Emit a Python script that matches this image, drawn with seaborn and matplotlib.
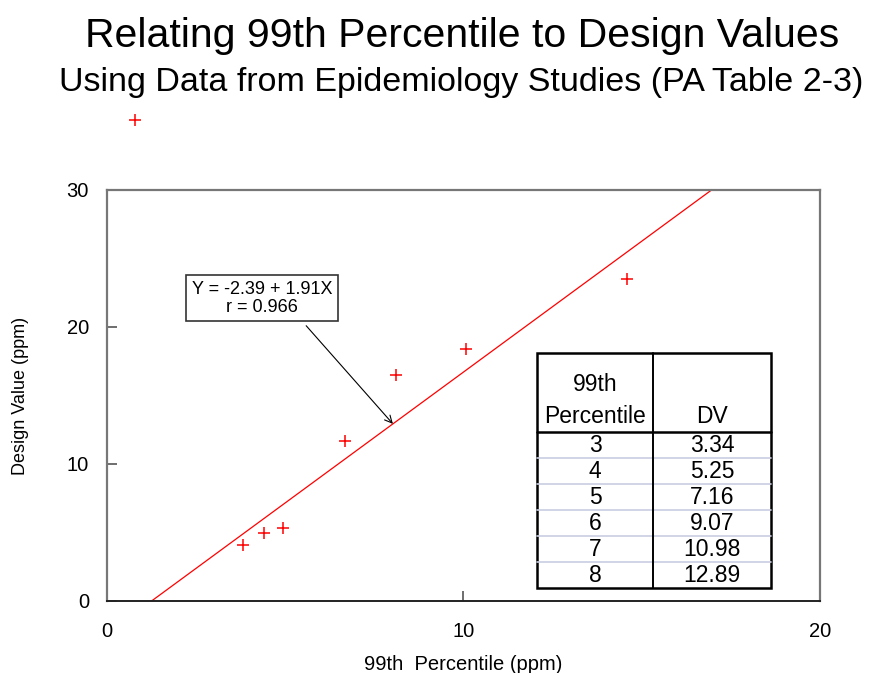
"""
Scatter of 99th percentile vs design value with fitted line and lookup table.
"""

import numpy as np
import pandas as pd
import matplotlib
matplotlib.use("Agg")
import matplotlib.pyplot as plt
import seaborn as sns

# Study data
pct99 = [3.81, 4.40, 4.94, 6.68, 8.11, 10.07, 14.59, 0.79]
design_value = [4.09, 4.96, 5.33, 11.68, 16.50, 18.40, 23.50, 35.10]

# Fitted line Y = a + bX
intercept = -2.39
slope = 1.91
r_value = 0.966

# Lookup table
table_pct = [3, 4, 5, 6, 7, 8]
table_dv = [3.34, 5.25, 7.16, 9.07, 10.98, 12.89]

# arrow target on the fitted line
arrow_x = 8.02

sns.set_style("white")
plt.rcParams['font.family'] = ['Liberation Sans', 'DejaVu Sans']
plt.rcParams['text.color'] = 'black'
plt.rcParams['axes.labelcolor'] = 'black'

df = pd.DataFrame({"x": pct99, "y": design_value})
fit_x = np.array([0, 20])
fit_df = pd.DataFrame({"x": fit_x, "y": intercept + slope * fit_x})

fig = plt.figure(figsize=(8.74, 6.73), dpi=100)
ax = fig.add_axes([0.1224, 0.1070, 0.8158, 0.6107])

sns.lineplot(data=fit_df, x="x", y="y", ax=ax, color="red", lw=0.9)
sns.scatterplot(data=df, x="x", y="y", ax=ax, marker="+", s=80,
                color="red", linewidth=1.1, clip_on=False, zorder=5)

ax.set_xlim(0, 20)
ax.set_ylim(0, 30)
ax.set_xticks([0, 10, 20])
ax.set_yticks([0, 10, 20, 30])
ax.tick_params(direction="in", length=7, width=1.2, colors="#555555",
               labelcolor="black", labelsize=14.5, bottom=True, left=True)
ax.tick_params(axis="x", pad=15)
ax.tick_params(axis="y", pad=13)
ax.set_xlabel("99th  Percentile (ppm)", fontsize=14.5, labelpad=10)
ax.set_ylabel("Design Value (ppm)", fontsize=13, labelpad=27)

for side in ["left", "top", "right"]:
    ax.spines[side].set_color("#777777")
    ax.spines[side].set_linewidth(1.6)
ax.spines["bottom"].set_color("#222222")
ax.spines["bottom"].set_linewidth(1.4)

# equation box with arrow
ax.annotate(f"Y = {intercept} + {slope}X\nr = {r_value}",
            xy=(arrow_x, intercept + slope * arrow_x), xytext=(4.35, 22.1),
            ha="center", va="center", fontsize=13, linespacing=1.05,
            bbox=dict(boxstyle="square,pad=0.3", fc="white", ec="#333333", lw=1.2),
            arrowprops=dict(arrowstyle="->", color="black", lw=0.8,
                            shrinkA=4, shrinkB=0, relpos=(0.75, 0)))

# lookup table drawn in axes fraction
t_left, t_mid, t_right = 0.603, 0.766, 0.931
t_top, t_head, t_bot = 0.603, 0.411, 0.0316
row_h = (t_head - t_bot) / len(table_pct)
c1 = (t_left + t_mid) / 2
c2 = (t_mid + t_right) / 2
tr = ax.transAxes
fs_tab = 16.5

ax.add_patch(plt.Rectangle((t_left, t_bot), t_right - t_left, t_top - t_bot,
                           transform=tr, fc="white", ec="black", lw=1.8, zorder=6))
for i in range(1, len(table_pct)):
    yy = t_head - i * row_h
    ax.plot([t_left, t_right], [yy, yy], transform=tr, color="#c9cde0",
            lw=1.2, zorder=7)
ax.plot([t_left, t_right], [t_head, t_head], transform=tr, color="black", lw=1.8, zorder=8)
ax.plot([t_mid, t_mid], [t_bot, t_top], transform=tr, color="black", lw=1.4, zorder=8)

ax.text(c1, 0.526, "99th", transform=tr, ha="center", va="center", fontsize=fs_tab, zorder=9)
ax.text(c1, 0.448, "Percentile", transform=tr, ha="center", va="center", fontsize=fs_tab, zorder=9)
ax.text(c2, 0.448, "DV", transform=tr, ha="center", va="center", fontsize=fs_tab, zorder=9)
for i, (p, d) in enumerate(zip(table_pct, table_dv)):
    yy = t_head - (i + 0.5) * row_h
    ax.text(c1, yy, f"{p}", transform=tr, ha="center", va="center", fontsize=fs_tab, zorder=9)
    ax.text(c2, yy, f"{d:.2f}", transform=tr, ha="center", va="center", fontsize=fs_tab, zorder=9)

fig.text(0.529, 0.947, "Relating 99th Percentile to Design Values",
         ha="center", va="center", fontsize=29.5)
fig.text(0.528, 0.877, "Using Data from Epidemiology Studies (PA Table 2-3)",
         ha="center", va="center", fontsize=24.5)

fig.savefig("out.png", dpi=100)
